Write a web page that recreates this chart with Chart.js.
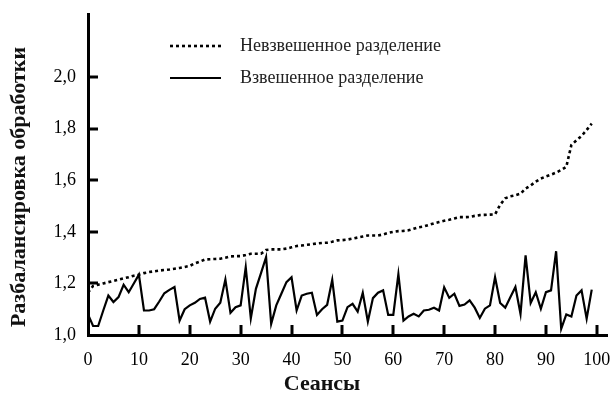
<!DOCTYPE html>
<html><head><meta charset="utf-8">
<script src="https://cdn.jsdelivr.net/npm/chart.js@4/dist/chart.umd.min.js"></script>
<style>html,body{margin:0;padding:0;background:#fff;}#wrap{width:611px;height:403px;}</style>
</head><body><div id="wrap"><canvas id="c" width="611" height="403"></canvas></div>
<script>
const sessions = Array.from({length: 100}, (_, i) => i);
const unweighted = [
  1.165,1.19,1.195,1.20,1.205,1.21,1.215,1.22,1.224,1.23,
  1.234,1.24,1.244,1.247,1.25,1.252,1.254,1.257,1.26,1.264,
  1.268,1.278,1.285,1.293,1.294,1.295,1.296,1.30,1.305,1.306,
  1.306,1.31,1.315,1.315,1.315,1.33,1.332,1.332,1.332,1.335,
  1.34,1.345,1.347,1.35,1.352,1.355,1.357,1.358,1.362,1.367,
  1.368,1.37,1.374,1.378,1.382,1.386,1.386,1.386,1.39,1.396,
  1.40,1.403,1.404,1.406,1.412,1.418,1.421,1.427,1.433,1.438,
  1.443,1.447,1.452,1.457,1.457,1.458,1.462,1.465,1.466,1.467,
  1.468,1.505,1.53,1.538,1.542,1.548,1.568,1.58,1.595,1.607,
  1.615,1.622,1.63,1.64,1.652,1.737,1.755,1.772,1.795,1.82
];
const weighted = [
  1.08,1.035,1.035,1.095,1.153,1.128,1.147,1.195,1.166,1.20,
  1.234,1.095,1.095,1.10,1.13,1.162,1.175,1.186,1.056,1.10,
  1.115,1.125,1.14,1.145,1.052,1.102,1.125,1.215,1.086,1.108,
  1.115,1.263,1.065,1.179,1.24,1.302,1.043,1.115,1.16,1.205,
  1.224,1.095,1.153,1.16,1.164,1.078,1.10,1.117,1.214,1.052,
  1.056,1.108,1.121,1.091,1.164,1.052,1.143,1.164,1.173,1.078,
  1.078,1.236,1.056,1.072,1.082,1.072,1.095,1.098,1.106,1.095,
  1.185,1.144,1.16,1.113,1.118,1.134,1.106,1.066,1.102,1.115,
  1.224,1.124,1.106,1.146,1.186,1.082,1.309,1.124,1.166,1.102,
  1.166,1.173,1.325,1.024,1.08,1.072,1.153,1.173,1.063,1.176
];
const seriesLabels = ['Невзвешенное разделение', 'Взвешенное разделение'];
const xTicks = [0,10,20,30,40,50,60,70,80,90,100];
const yTicks = [1.0,1.2,1.4,1.6,1.8,2.0];
const xTitle = 'Сеансы';
const yTitle = 'Разбалансировка обработки';

const serif = "'Liberation Serif', 'Times New Roman', serif";

const decor = {
  id: 'decor',
  afterDraw(chart) {
    const ctx = chart.ctx;
    const xs = chart.scales.x, ys = chart.scales.y;
    const ca = chart.chartArea;
    ctx.save();
    ctx.strokeStyle = '#000';
    ctx.lineWidth = 3;
    ctx.lineCap = 'butt';
    xTicks.forEach(v => {
      if (v === 0) return;
      const px = Math.round(xs.getPixelForValue(v));
      ctx.beginPath(); ctx.moveTo(px, ca.bottom); ctx.lineTo(px, ca.bottom - 10); ctx.stroke();
    });
    yTicks.forEach(v => {
      if (v === 1.0) return;
      const py = Math.round(ys.getPixelForValue(v));
      ctx.beginPath(); ctx.moveTo(ca.left, py); ctx.lineTo(ca.left + 10, py); ctx.stroke();
    });
    // legend
    const lx0 = 170, lx1 = 221, tx = 240;
    const ly = [46, 78];
    chart.data.datasets.forEach((ds, i) => {
      ctx.save();
      ctx.strokeStyle = ds.borderColor;
      ctx.lineWidth = ds.borderWidth;
      ctx.setLineDash(ds.borderDash || []);
      ctx.beginPath(); ctx.moveTo(lx0, ly[i]); ctx.lineTo(lx1, ly[i]); ctx.stroke();
      ctx.restore();
      ctx.fillStyle = '#222';
      ctx.font = '18px ' + serif;
      ctx.textBaseline = 'middle';
      ctx.textAlign = 'left';
      ctx.fillText(ds.label, tx, ly[i]);
    });
    // axis titles
    ctx.fillStyle = '#111';
    ctx.font = 'bold 22px ' + serif;
    ctx.textAlign = 'center';
    ctx.textBaseline = 'middle';
    ctx.fillText(xTitle, 322, 384);
    ctx.save();
    ctx.translate(19, 187);
    ctx.rotate(-Math.PI / 2);
    ctx.fillText(yTitle, 0, 0);
    ctx.restore();
    ctx.restore();
  }
};

new Chart(document.getElementById('c'), {
  type: 'line',
  data: {
    datasets: [
      {
        label: seriesLabels[0],
        data: sessions.map((s, i) => ({x: s, y: unweighted[i]})),
        borderColor: '#000', borderWidth: 2.6, borderDash: [3, 3],
        pointRadius: 0, tension: 0, fill: false
      },
      {
        label: seriesLabels[1],
        data: sessions.map((s, i) => ({x: s, y: weighted[i]})),
        borderColor: '#000', borderWidth: 2.2,
        pointRadius: 0, tension: 0, fill: false
      }
    ]
  },
  options: {
    responsive: false,
    animation: false,
    devicePixelRatio: 1,
    layout: { padding: { top: 14, right: 4, left: 0, bottom: 0 } },
    plugins: { legend: { display: false }, tooltip: { enabled: false } },
    scales: {
      x: {
        type: 'linear', min: 0, max: 102,
        afterBuildTicks: s => { s.ticks = xTicks.map(v => ({value: v})); },
        afterFit: s => { s.height = 68; s.paddingLeft = 0; s.paddingRight = 0; },
        grid: { display: false, drawTicks: false },
        border: { display: true, color: '#000', width: 3 },
        ticks: { color: '#000', padding: 14, maxRotation: 0, autoSkip: false,
                 font: { family: serif, size: 18 }, callback: v => String(v) }
      },
      y: {
        type: 'linear', min: 1.0, max: 2.245,
        afterBuildTicks: s => { s.ticks = yTicks.map(v => ({value: v})); },
        afterFit: s => { s.width = 88; s.paddingTop = 0; s.paddingBottom = 0; },
        grid: { display: false, drawTicks: false },
        border: { display: true, color: '#000', width: 3 },
        ticks: { color: '#000', padding: 12, autoSkip: false,
                 font: { family: serif, size: 18 },
                 callback: v => Number(v).toFixed(1).replace('.', ',') }
      }
    }
  },
  plugins: [decor]
});
</script>
</body></html>
